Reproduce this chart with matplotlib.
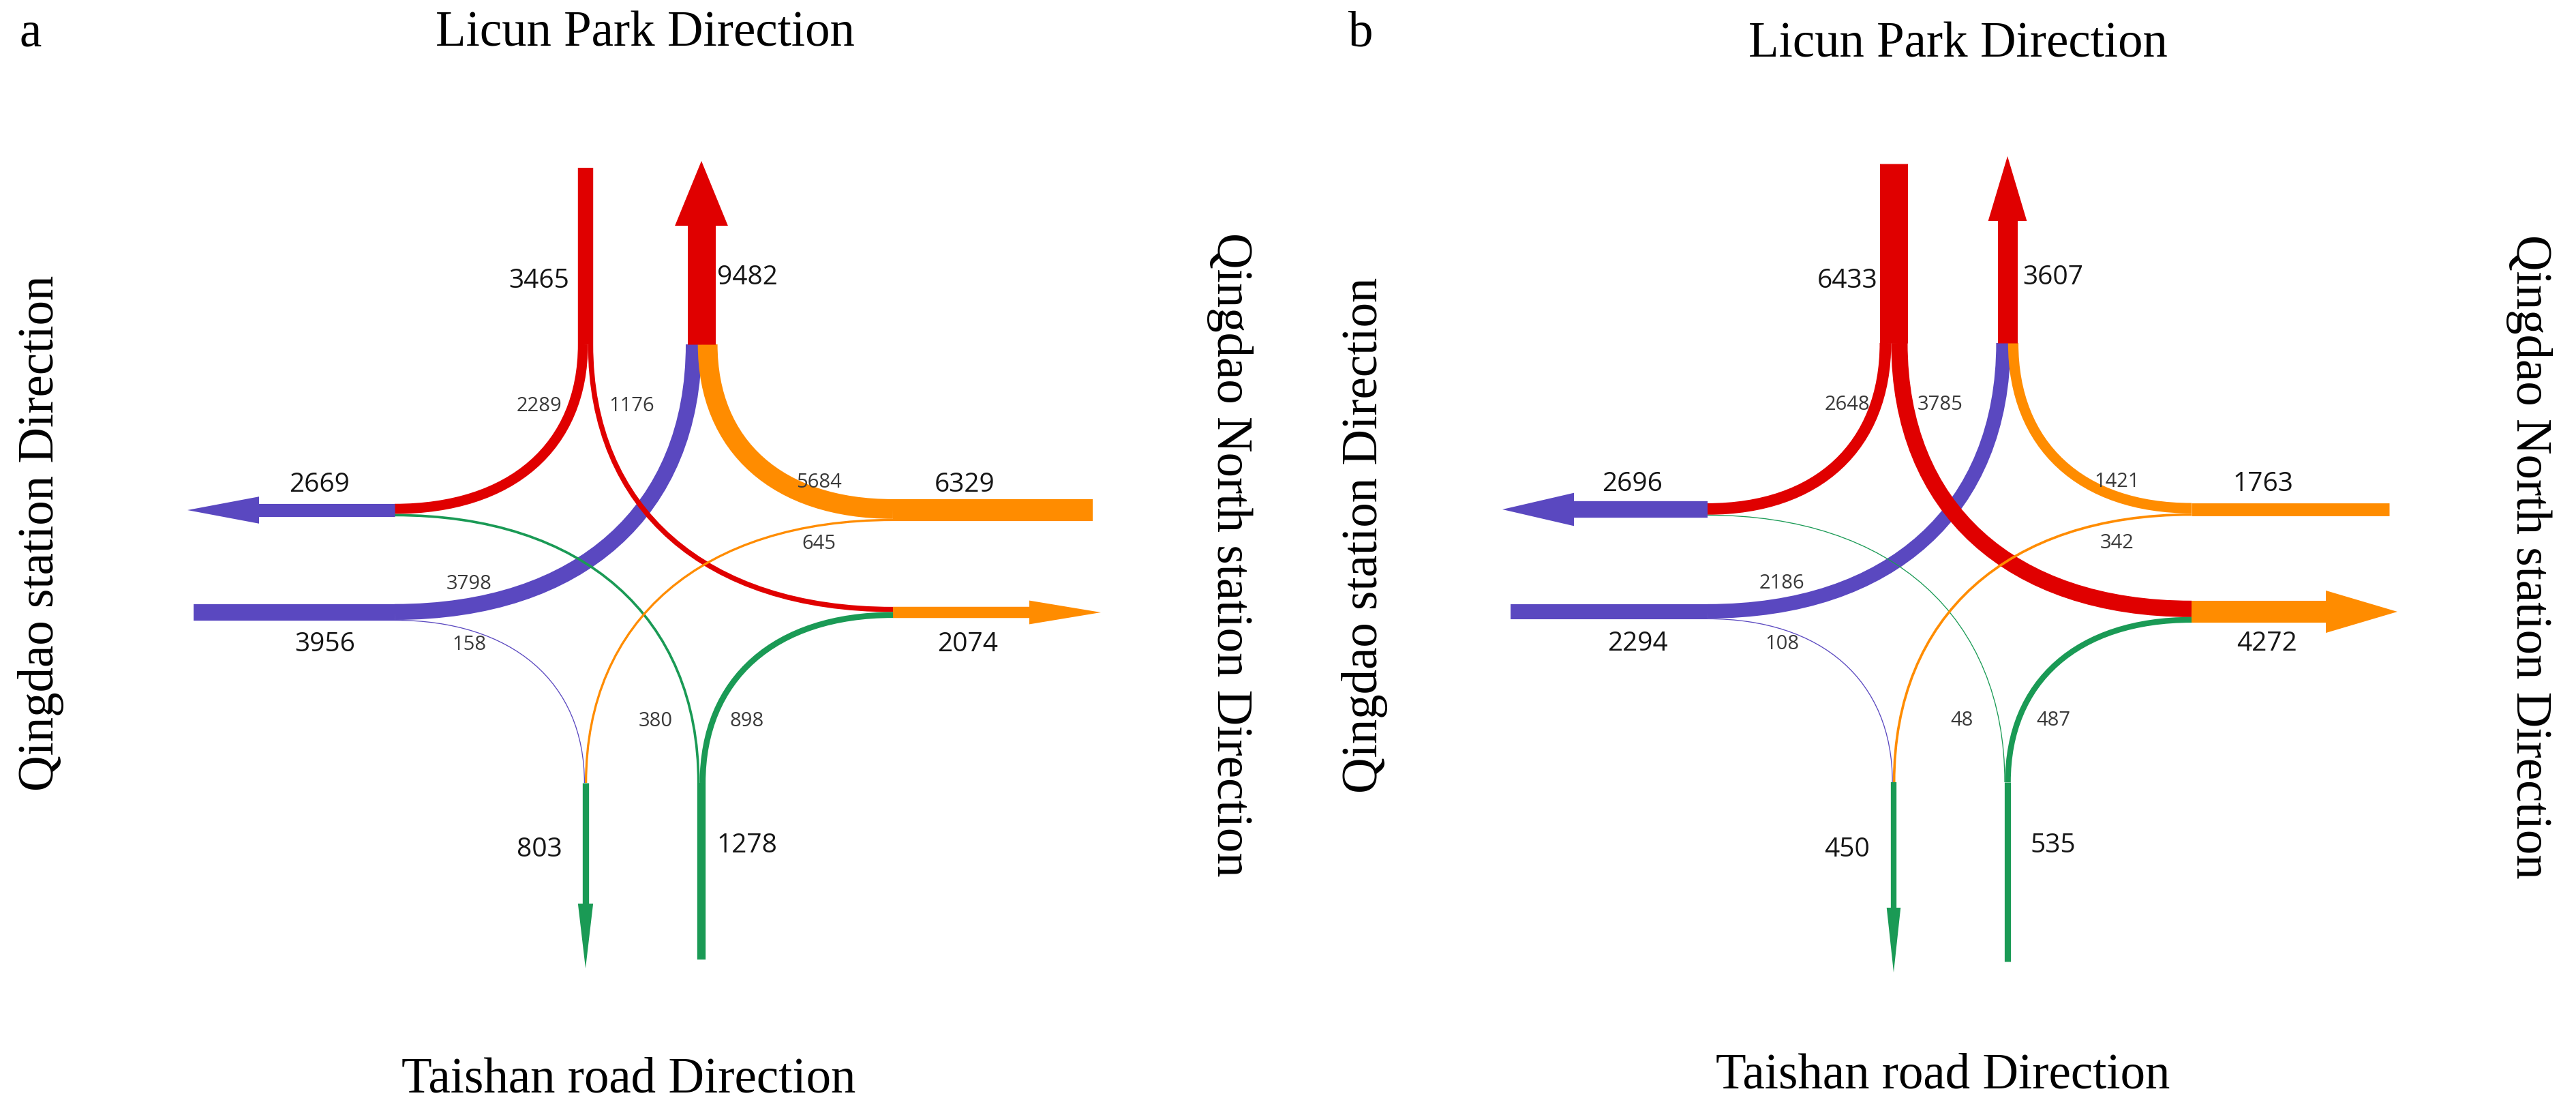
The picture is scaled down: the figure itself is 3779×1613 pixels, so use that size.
import matplotlib
matplotlib.use("Agg")
import matplotlib.pyplot as plt
from matplotlib.path import Path
from matplotlib.patches import PathPatch, Polygon

DPI = 100
PT = 72.0 / DPI  # pixels -> points

# turning movements: origin-destination
movements = [("N", "W"), ("N", "E"), ("E", "N"), ("E", "S"),
             ("W", "N"), ("W", "S"), ("S", "E"), ("S", "W")]
flows_a = [2289, 1176, 5684, 645, 3798, 158, 898, 380]
flows_b = [2648, 3785, 1421, 342, 2186, 108, 487, 48]

panel_letters = ["a", "b"]
north_label = "Licun Park Direction"
south_label = "Taishan road Direction"
west_label = "Qingdao station Direction"
east_label = "Qingdao North station Direction"

colors = {"N": "#e00000", "E": "#ff8c00", "W": "#5a48c0", "S": "#1a9a55"}

# layout of each panel, in output pixels
geom_a = dict(xl=859, xr=1029, xw=579, xe=1310, yt=748, yb=898, yn=505, ys=1148,
              top=246, bottom=1407, west_end=284, east_end=1603,
              n_tip=236, s_tip=1420, w_tip=275, e_tip=1615,
              letter=(45, 67), title_n=(946, 67), title_s=(922, 1601),
              title_w=(78, 782), title_e=(1786, 813))
geom_b = dict(xl=2778, xr=2945, xw=2505, xe=3215, yt=747, yb=897, yn=503, ys=1147,
              top=240, bottom=1410, west_end=2216, east_end=3505,
              n_tip=229, s_tip=1426, w_tip=2204, e_tip=3517,
              letter=(1996, 67), title_n=(2872, 83), title_s=(2850, 1596),
              title_w=(2020, 785), title_e=(3692, 816))

NUM_FONT = "Open Sans"
SERIF = "Liberation Serif"


def width_px(v, vmax):
    return max(1.6, 41.0 * (v / vmax) ** 0.6)


def offsets(shaft_w, widths):
    f = min(1.0, shaft_w / sum(widths))
    ws = [w * f for w in widths]
    pos = -sum(ws) / 2.0
    res = []
    for w in ws:
        res.append(pos + w / 2.0)
        pos += w
    return res


def draw_panel(ax, flows, g, letter):
    in_pt = {"N": (g["xl"], g["yn"]), "E": (g["xe"], g["yt"]),
             "W": (g["xw"], g["yb"]), "S": (g["xr"], g["ys"])}
    in_dir = {"N": (0, 1), "E": (-1, 0), "W": (1, 0), "S": (0, -1)}
    out_pt = {"N": (g["xr"], g["yn"]), "W": (g["xw"], g["yt"]),
              "E": (g["xe"], g["yb"]), "S": (g["xl"], g["ys"])}
    out_dir = {"N": (0, -1), "W": (-1, 0), "E": (1, 0), "S": (0, 1)}

    tot_in = {d: sum(v for (o, _), v in zip(movements, flows) if o == d) for d in "NEWS"}
    tot_out = {d: sum(v for (_, t), v in zip(movements, flows) if t == d) for d in "NEWS"}
    vmax = max(max(tot_in.values()), max(tot_out.values()))
    # a turning stream takes its share of the approach width
    w_flow = [max(1.3, width_px(tot_in[o], vmax) * v / tot_in[o])
              for (o, _), v in zip(movements, flows)]

    # offset of every branch end inside its shaft
    shift = {}
    for side, pts, tots, key in (("in", in_pt, tot_in, 0), ("out", out_pt, tot_out, 1)):
        for d in "NEWS":
            idx = [i for i, m in enumerate(movements) if m[key] == d]
            axis = 0 if d in "NS" else 1
            other = out_pt if side == "in" else in_pt
            idx.sort(key=lambda i: other[movements[i][1 - key]][axis])
            offs = offsets(width_px(tots[d], vmax), [w_flow[i] for i in idx])
            for i, o in zip(idx, offs):
                shift[(side, i)] = (o, 0) if axis == 0 else (0, o)

    order = {"W": 0, "N": 1, "S": 2, "E": 3}
    for i in sorted(range(len(movements)), key=lambda i: order[movements[i][0]]):
        o, t = movements[i]
        s0, s3 = shift[("in", i)], shift[("out", i)]
        p0 = (in_pt[o][0] + s0[0], in_pt[o][1] + s0[1])
        p3 = (out_pt[t][0] + s3[0], out_pt[t][1] + s3[1])
        d0, d3 = in_dir[o], out_dir[t]
        dx, dy = abs(p3[0] - p0[0]), abs(p3[1] - p0[1])
        k = 0.62
        l0 = dy if d0[0] == 0 else dx
        l3 = dx if d3[1] == 0 else dy
        p1 = (p0[0] + d0[0] * k * l0, p0[1] + d0[1] * k * l0)
        p2 = (p3[0] - d3[0] * k * l3, p3[1] - d3[1] * k * l3)
        path = Path([p0, p1, p2, p3], [Path.MOVETO, Path.CURVE4, Path.CURVE4, Path.CURVE4])
        ax.add_patch(PathPatch(path, fill=False, edgecolor=colors[o],
                               lw=w_flow[i] * PT, capstyle="butt", zorder=2))

    # approach shafts
    ends = {"N": (g["xl"], g["top"]), "E": (g["east_end"], g["yt"]),
            "W": (g["west_end"], g["yb"]), "S": (g["xr"], g["bottom"])}
    for d in "NEWS":
        (x0, y0), (x1, y1) = ends[d], in_pt[d]
        ax.plot([x0, x1], [y0, y1], color=colors[d], lw=width_px(tot_in[d], vmax) * PT,
                solid_capstyle="butt", zorder=3)

    # exit shafts with arrow heads
    tips = {"N": (g["xr"], g["n_tip"]), "W": (g["w_tip"], g["yt"]),
            "E": (g["e_tip"], g["yb"]), "S": (g["xl"], g["s_tip"])}
    head_len = {"N": 95, "S": 95, "W": 105, "E": 105}
    for d in "NEWS":
        w = width_px(tot_out[d], vmax)
        (x0, y0), (xt, yt) = out_pt[d], tips[d]
        ux, uy = out_dir[d]
        bx, by = xt - ux * head_len[d], yt - uy * head_len[d]
        ax.plot([x0, bx + ux * 2], [y0, by + uy * 2], color=colors[d], lw=w * PT,
                solid_capstyle="butt", zorder=3)
        hw = (1.75 * w + 6) / 2.0
        px, py = -uy, ux
        head = [(bx + px * hw, by + py * hw), (xt, yt), (bx - px * hw, by - py * hw)]
        ax.add_patch(Polygon(head, closed=True, facecolor=colors[d], edgecolor="none", zorder=3))

    # volume labels
    big = dict(ha="center", va="baseline", fontsize=28, color="#151515", family=NUM_FONT)
    small = dict(ha="center", va="baseline", fontsize=21, color="#3a3a3a", family=NUM_FONT)
    tot_pos = {("in", "N"): (g["xl"] - 68, 408), ("out", "N"): (g["xr"] + 67, 403),
               ("out", "S"): (g["xl"] - 68, 1242), ("in", "S"): (g["xr"] + 67, 1236),
               ("out", "W"): (g["xw"] - 110, g["yt"] - 41), ("in", "E"): (g["xe"] + 105, g["yt"] - 41),
               ("in", "W"): (g["xw"] - 102, g["yb"] + 43), ("out", "E"): (g["xe"] + 110, g["yb"] + 43)}
    for (side, d), (x, y) in tot_pos.items():
        val = tot_in[d] if side == "in" else tot_out[d]
        ax.text(x, y + 14, str(val), **big)

    flow_pos = {("N", "W"): (g["xl"] - 68, g["yn"] + 87), ("N", "E"): (g["xl"] + 68, g["yn"] + 87),
                ("E", "N"): (g["xe"] - 109, g["yt"] - 44), ("E", "S"): (g["xe"] - 109, g["yt"] + 46),
                ("W", "N"): (g["xw"] + 109, g["yb"] - 45), ("W", "S"): (g["xw"] + 109, g["yb"] + 44),
                ("S", "W"): (g["xr"] - 67, g["ys"] - 94), ("S", "E"): (g["xr"] + 67, g["ys"] - 94)}
    for m, v in zip(movements, flows):
        x, y = flow_pos[m]
        ax.text(x, y + 11, str(v), **small)

    # direction titles
    serif = dict(family=SERIF, fontsize=52.5, color="black")
    ax.text(*g["letter"], letter, ha="center", va="baseline", **serif)
    ax.text(*g["title_n"], north_label, ha="center", va="baseline", **serif)
    ax.text(*g["title_s"], south_label, ha="center", va="baseline", **serif)
    ax.text(*g["title_w"], west_label, ha="center", va="baseline", rotation=90,
            rotation_mode="anchor", **serif)
    ax.text(*g["title_e"], east_label, ha="center", va="baseline", rotation=-90,
            rotation_mode="anchor", **serif)


fig = plt.figure(figsize=(37.8, 16.13), dpi=DPI)
ax = fig.add_axes([0, 0, 1, 1])
ax.set_xlim(0, 3780)
ax.set_ylim(1613, 0)
ax.axis("off")

draw_panel(ax, flows_a, geom_a, panel_letters[0])
draw_panel(ax, flows_b, geom_b, panel_letters[1])

fig.savefig("out.png", dpi=DPI, facecolor="white")
